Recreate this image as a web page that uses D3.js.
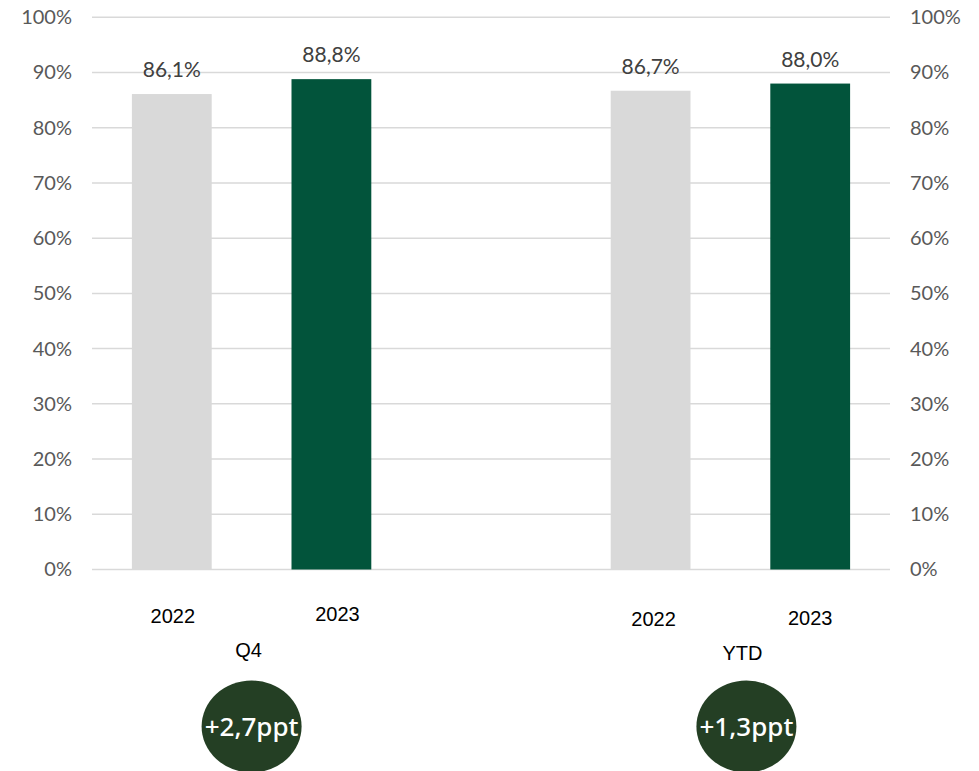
<!DOCTYPE html>
<html>
<head>
<meta charset="utf-8">
<script src="https://cdn.jsdelivr.net/npm/d3@7"></script>
<style>
  html, body { margin: 0; padding: 0; background: #fff; }
  svg { display: block; }
</style>
</head>
<body>
<svg id="chart" width="979" height="771"></svg>
<script>
// Bar slots: two years per period, with an empty spacer slot between periods
const slots = ["q4-2022", "q4-2023", "gap", "ytd-2022", "ytd-2023"];
const years = ["2022", "2023", "", "2022", "2023"];
const values = [86.1, 88.8, null, 86.7, 88.0];
const valueLabels = ["86,1%", "88,8%", "", "86,7%", "88,0%"];
const periods = ["Q4", "YTD"];
const periodSlots = [["q4-2022", "q4-2023"], ["ytd-2022", "ytd-2023"]];
const deltas = ["+2,7ppt", "+1,3ppt"];
const ticks = [0, 10, 20, 30, 40, 50, 60, 70, 80, 90, 100];

const svg = d3.select("#chart");
const margin = { left: 92, right: 89, top: 17.3, bottom: 201.5 };
const W = 979, H = 771;

const x = d3.scaleBand()
  .domain(slots)
  .range([margin.left, W - margin.right])
  .paddingInner(0.5)
  .paddingOuter(0.25);

const y = d3.scaleLinear()
  .domain([0, 100])
  .range([H - margin.bottom, margin.top]);

const tickFont = "Lato, 'Noto Sans', sans-serif";
const catFont = "'Liberation Sans', Arial, sans-serif";

// Gridlines
svg.append("g")
  .selectAll("line")
  .data(ticks)
  .join("line")
  .attr("x1", margin.left)
  .attr("x2", W - margin.right)
  .attr("y1", d => y(d))
  .attr("y2", d => y(d))
  .attr("stroke", "#d9d9d9")
  .attr("stroke-width", 1.5);

// Left and right percentage axes
const fmt = d => d + "%";
const leftAxis = svg.append("g")
  .attr("transform", `translate(${margin.left - 20},0)`)
  .call(d3.axisLeft(y).tickValues(ticks).tickFormat(fmt).tickSize(0).tickPadding(0));
const rightAxis = svg.append("g")
  .attr("transform", `translate(${W - margin.right + 20},0)`)
  .call(d3.axisRight(y).tickValues(ticks).tickFormat(fmt).tickSize(0).tickPadding(0));
[leftAxis, rightAxis].forEach(a => {
  a.select(".domain").remove();
  a.selectAll("text")
    .attr("fill", "#595959")
    .style("font-family", tickFont)
    .style("font-size", "20px");
});

// Bars
const barData = slots.map((s, i) => ({ slot: s, value: values[i], label: valueLabels[i], year: years[i] }))
  .filter(d => d.value !== null);

svg.append("g")
  .selectAll("rect")
  .data(barData)
  .join("rect")
  .attr("x", d => x(d.slot))
  .attr("width", x.bandwidth())
  .attr("y", d => y(d.value))
  .attr("height", d => y(0) - y(d.value))
  .attr("fill", d => d.year === "2023" ? "#02543b" : "#d9d9d9");

// Value labels above bars
svg.append("g")
  .selectAll("text")
  .data(barData)
  .join("text")
  .attr("x", d => x(d.slot) + x.bandwidth() / 2)
  .attr("y", d => y(d.value) - 17)
  .attr("text-anchor", "middle")
  .attr("fill", "#404040")
  .style("font-family", tickFont)
  .style("font-size", "21px")
  .text(d => d.label);

// Year labels under bars (text boxes sit slightly off the bar centres)
const yearShift = [1, 6, 3, 0];
const yearDrop = [53, 51, 56, 55];
svg.append("g")
  .selectAll("text")
  .data(barData)
  .join("text")
  .attr("x", (d, i) => x(d.slot) + x.bandwidth() / 2 + yearShift[i])
  .attr("y", (d, i) => y(0) + yearDrop[i])
  .attr("text-anchor", "middle")
  .attr("fill", "#000")
  .style("font-family", catFont)
  .style("font-size", "20px")
  .text(d => d.year);

// Period labels and change badges
const periodData = periods.map((p, i) => {
  const a = x(periodSlots[i][0]), b = x(periodSlots[i][1]) + x.bandwidth();
  return { name: p, cx: (a + b) / 2 + (i === 0 ? -3 : 12), delta: deltas[i] };
});

svg.append("g")
  .selectAll("text")
  .data(periodData)
  .join("text")
  .attr("x", d => d.cx)
  .attr("y", (d, i) => y(0) + (i === 0 ? 87 : 90))
  .attr("text-anchor", "middle")
  .attr("fill", "#000")
  .style("font-family", catFont)
  .style("font-size", "20px")
  .text(d => d.name);

const badges = svg.append("g")
  .selectAll("g")
  .data(periodData)
  .join("g")
  .attr("transform", (d, i) => `translate(${d.cx + (i === 0 ? 3 : 4)},${y(0) + 157})`);

badges.append("ellipse")
  .attr("rx", 50)
  .attr("ry", 46)
  .attr("fill", "#243f24");

badges.append("text")
  .attr("y", 9)
  .attr("text-anchor", "middle")
  .attr("fill", "#fff")
  .style("font-family", "'Noto Sans', sans-serif")
  .style("font-size", "26px")
  .style("font-weight", "500")
  .text(d => d.delta);
</script>
</body>
</html>
